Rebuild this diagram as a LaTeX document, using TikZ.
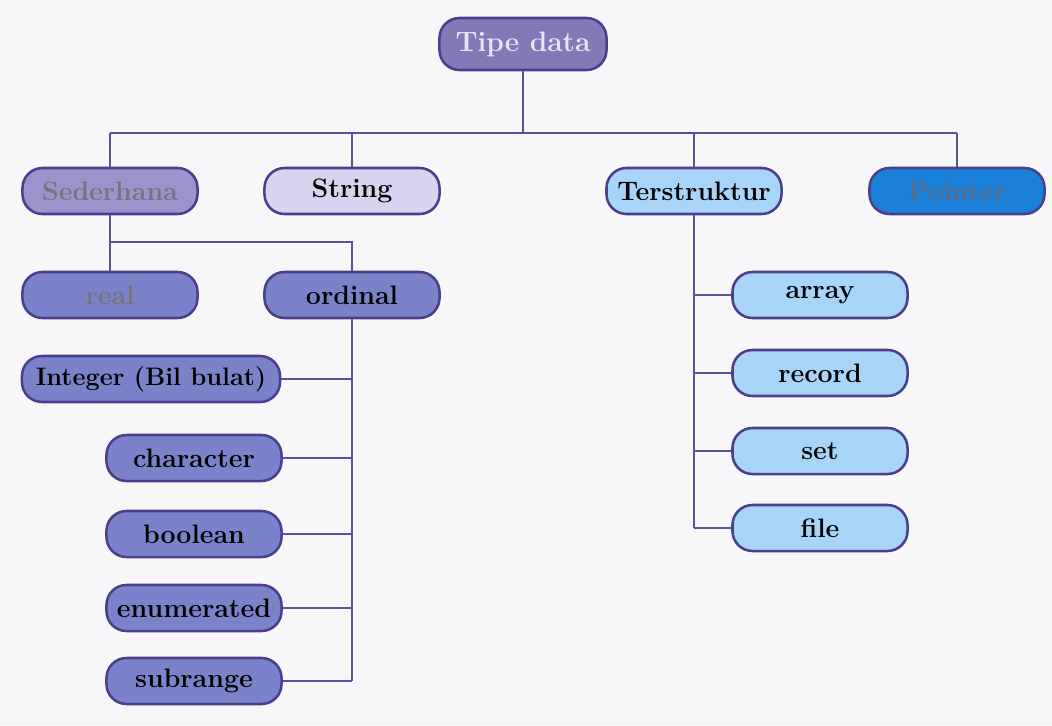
\documentclass[tikz,border=0pt]{standalone}
\usepackage{xcolor}
\definecolor{bgcol}{HTML}{F7F7F9}
\definecolor{edgecol}{HTML}{4B3F8C}
\definecolor{linkcol}{HTML}{5B519E}
\definecolor{tipefill}{HTML}{8279B8}
\definecolor{tipetext}{HTML}{E8E4F4}
\definecolor{sedfill}{HTML}{9C93CC}
\definecolor{greytext}{HTML}{76737F}
\definecolor{strfill}{HTML}{D8D3EE}
\definecolor{ordfill}{HTML}{7A83CA}
\definecolor{terfill}{HTML}{A8D5F7}
\definecolor{ptrfill}{HTML}{1B80D8}
\definecolor{ptrtext}{HTML}{5C6C84}

\begin{document}
\begin{tikzpicture}[x=0.025cm,y=-0.025cm,
  box/.style={draw=edgecol,line width=1.8pt,rounded corners=0.5cm,inner sep=0pt,
    minimum width=4.375cm,minimum height=1.15cm,font=\fontsize{19}{22}\selectfont\bfseries},
  link/.style={draw=linkcol,line width=1.7pt}]
\fill[bgcol] (0,0) rectangle (1052,725);
\useasboundingbox (0,0) rectangle (1052,725);
% root and first level
\node[box,fill=tipefill,text=tipetext,minimum width=4.175cm,minimum height=1.3cm,
  font=\fontsize{20}{23}\selectfont\bfseries] (tipe) at (523,44){Tipe data};
\node[box,fill=sedfill,text=greytext] (sed) at (110,191){Sederhana};
\node[box,fill=strfill] (str) at (352,191){String};
\node[box,fill=terfill] (ter) at (694,191){Terstruktur};
\node[box,fill=ptrfill,text=ptrtext] (ptr) at (957,191){Pointer};
% Sederhana branch
\node[box,fill=ordfill,text=greytext] (real) at (110,295){real};
\node[box,fill=ordfill] (ord) at (352,295){ordinal};
\node[box,fill=ordfill,minimum width=6.45cm,font=\fontsize{18}{21}\selectfont\bfseries] (int) at (151,379){Integer (Bil bulat)};
\node[box,fill=ordfill] (chr) at (194,458){character};
\node[box,fill=ordfill] (bool) at (194,534){boolean};
\node[box,fill=ordfill] (enum) at (194,608){enumerated};
\node[box,fill=ordfill] (sub) at (194,681){subrange};
% Terstruktur branch
\node[box,fill=terfill] (arr) at (820,295){array};
\node[box,fill=terfill] (rec) at (820,373){record};
\node[box,fill=terfill] (set) at (820,451){set};
\node[box,fill=terfill] (file) at (820,528){file};
% connectors
\coordinate (busL) at (110,133); \coordinate (busR) at (957,133);
\coordinate (sedj) at (110,242);
\draw[link] (busL) -- (busR);
\draw[link] (tipe.south) -- (tipe.south |- busL);
\foreach \n in {sed,str,ter,ptr} \draw[link] (\n.north) -- (\n.north |- busL);
\draw[link] (sed.south) -- (real.north);
\draw[link] (sedj) -| (ord.north);
\draw[link] (ord.south) -- (ord.south |- sub);
\foreach \n in {int,chr,bool,enum,sub} \draw[link] (\n.east) -- (\n.east -| ord.south);
\draw[link] (ter.south) -- (ter.south |- file);
\foreach \n in {arr,rec,set,file} \draw[link] (\n.west) -- (\n.west -| ter.south);
\end{tikzpicture}
\end{document}
